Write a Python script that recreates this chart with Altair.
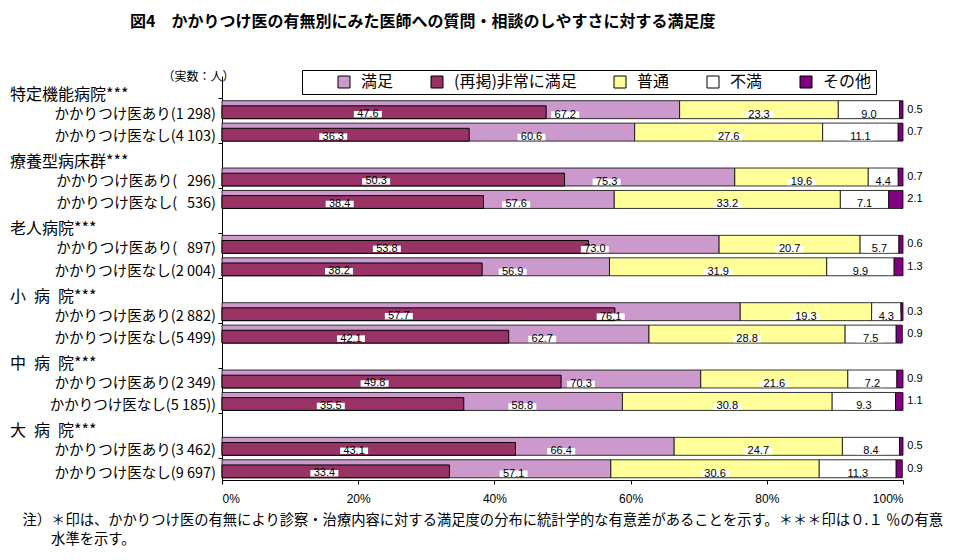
import altair as alt
import pandas as pd

# ---------------- data ----------------
groups = ["特定機能病院***", "療養型病床群***", "老人病院***",
          "小\u2002病\u2002院***", "中\u2002病\u2002院***", "大\u2002病\u2002院***"]
row_labels = ["かかりつけ医あり(1 298)", "かかりつけ医なし(4 103)",
              "かかりつけ医あり(\u00a0\u00a0\u00a0296)", "かかりつけ医なし(\u00a0\u00a0\u00a0536)",
              "かかりつけ医あり(\u00a0\u00a0\u00a0897)", "かかりつけ医なし(2 004)",
              "かかりつけ医あり(2 882)", "かかりつけ医なし(5 499)",
              "かかりつけ医あり(2 349)", "かかりつけ医なし(5 185))",
              "かかりつけ医あり(3 462)", "かかりつけ医なし(9 697)"]
very = [47.6, 36.3, 50.3, 38.4, 53.8, 38.2, 57.7, 42.1, 49.8, 35.5, 43.1, 33.4]
satisfied = [67.2, 60.6, 75.3, 57.6, 73.0, 56.9, 76.1, 62.7, 70.3, 58.8, 66.4, 57.1]
normal = [23.3, 27.6, 19.6, 33.2, 20.7, 31.9, 19.3, 28.8, 21.6, 30.8, 24.7, 30.6]
dissat = [9.0, 11.1, 4.4, 7.1, 5.7, 9.9, 4.3, 7.5, 7.2, 9.3, 8.4, 11.3]
other = [0.5, 0.7, 0.7, 2.1, 0.6, 1.3, 0.3, 0.9, 0.9, 1.1, 0.5, 0.9]

cat_order = ["満足", "(再掲)非常に満足", "普通", "不満", "その他"]
cat_colors = ["#CC99CC", "#993366", "#FFFF99", "#FFFFFF", "#800080"]

title_text = "図4　かかりつけ医の有無別にみた医師への質問・相談のしやすさに対する満足度"
note_lines = ["注）＊印は、かかりつけ医の有無により診察・治療内容に対する満足度の分布に統計学的な有意差があることを示す。＊＊＊印は０.１ ％の有意",
              "\u200b\u3000\u3000水準を示す。"]
unit_text = "（実数：人）"

# ---------------- derived tables ----------------
seg_rows, dark_rows, lab_rows, oth_rows, rl_rows = [], [], [], [], []
for i in range(len(very)):
    g, r = divmod(i, 2)
    s = 3 * g + 1 + r
    vals = [("満足", satisfied[i]), ("普通", normal[i]), ("不満", dissat[i]), ("その他", other[i])]
    start = 0.0
    for cat, v in vals:
        seg_rows.append(dict(cat=cat, x0=start, x1=start + v, ytop=s + 0.1, ybot=s + 0.9))
        if cat != "その他":
            pos = satisfied[i] * 0.75 if cat == "満足" else start + v / 2
            lab_rows.append(dict(x=pos, y=s + 0.72, t=f"{v:.1f}"))
        start += v
    dark_rows.append(dict(cat="(再掲)非常に満足", x0=0.0, x1=very[i], ytop=s + 0.33, ybot=s + 0.9))
    lab_rows.append(dict(x=very[i] * 0.45, y=s + 0.7, t=f"{very[i]:.1f}"))
    oth_rows.append(dict(y=s + 0.5, t=f"{other[i]:.1f}"))
    rl_rows.append(dict(y=s + 0.72, t=row_labels[i]))
grp_rows = [dict(y=3 * g + 0.83, t=name) for g, name in enumerate(groups)]

seg_df = pd.DataFrame(seg_rows)
dark_df = pd.DataFrame(dark_rows)
lab_df = pd.DataFrame(lab_rows)
oth_df = pd.DataFrame(oth_rows)
rl_df = pd.DataFrame(rl_rows)
grp_df = pd.DataFrame(grp_rows)

# ---------------- chart ----------------
W, H = 681, 404
NS = 18
JP = "Noto Sans CJK JP"
NUM = "Liberation Sans"

xscale = alt.Scale(domain=[0, 100], nice=False, zero=True)
yscale = alt.Scale(domain=[0, NS], reverse=True, nice=False, zero=False)

xaxis = alt.Axis(values=[0, 20, 40, 60, 80, 100], labelExpr="datum.value + '%'",
                 grid=False, domainColor="black", tickColor="black", tickSize=4,
                 labelFont=NUM, labelFontSize=12, labelColor="black", labelPadding=9,
                 title=note_lines, titleFont=JP, titleFontSize=14.3, titleFontWeight="normal",
                 titleColor="black", titleAlign="left", titleAnchor="start", titleBaseline="top",
                 titleX=-200, titleY=33, titleLineHeight=19)
yaxis = alt.Axis(values=list(range(1, NS + 1)), labels=False, grid=False,
                 domainColor="black", tickColor="black", tickSize=4,
                 title=unit_text, titleFont=JP, titleFontSize=12, titleFontWeight="normal",
                 titleColor="black", titleAngle=0, titleAlign="left", titleBaseline="middle",
                 titleX=-60, titleY=0)

legend = alt.Legend(orient="none", legendX=80, legendY=-6, direction="horizontal",
                    title=" ", titleOrient="left", titlePadding=30, titleFontSize=4,
                    strokeColor="black", fillColor="white", padding=4,
                    symbolType="square", symbolSize=144, symbolStrokeColor="black",
                    symbolStrokeWidth=1, labelFont=JP, labelFontSize=16, labelColor="black",
                    labelOffset=9, columnPadding=35)
color = alt.Color("cat:N", scale=alt.Scale(domain=cat_order, range=cat_colors), legend=legend)

seg = alt.Chart(seg_df).mark_rect(stroke="black", strokeWidth=0.8).encode(
    x=alt.X("x0:Q", scale=xscale, axis=xaxis), x2="x1:Q",
    y=alt.Y("ytop:Q", scale=yscale, axis=yaxis), y2="ybot:Q",
    color=color)

dark = alt.Chart(dark_df).mark_rect(stroke="black", strokeWidth=1).encode(
    x=alt.X("x0:Q", scale=xscale), x2="x1:Q",
    y=alt.Y("ytop:Q", scale=yscale), y2="ybot:Q",
    color=color)

boxes = alt.Chart(lab_df).mark_point(shape="M-1,-0.23H1V0.23H-1Z", filled=True,
                                     color="white", opacity=1, strokeWidth=0, size=784).encode(
    x=alt.X("x:Q", scale=xscale), y=alt.Y("y:Q", scale=yscale))

labels = alt.Chart(lab_df).mark_text(font=NUM, fontSize=11, color="black", baseline="middle").encode(
    x=alt.X("x:Q", scale=xscale), y=alt.Y("y:Q", scale=yscale), text="t:N")

oth = alt.Chart(oth_df).mark_text(font=NUM, fontSize=11, color="black", baseline="middle").encode(
    x=alt.value(W + 12), y=alt.Y("y:Q", scale=yscale), text="t:N")

rowlab = alt.Chart(rl_df).mark_text(font=JP, fontSize=14.5, color="black", align="right",
                                    baseline="middle").encode(
    x=alt.value(-6), y=alt.Y("y:Q", scale=yscale), text="t:N")

grplab = alt.Chart(grp_df).mark_text(font=JP, fontSize=16, color="black", align="left",
                                     baseline="middle").encode(
    x=alt.value(-212), y=alt.Y("y:Q", scale=yscale), text="t:N")

chart = alt.layer(seg, dark, boxes, labels, oth, rowlab, grplab).properties(
    width=W, height=H,
    title=alt.TitleParams(text=title_text, anchor="start", frame="group", dx=-92,
                          font=JP, fontSize=16, fontWeight="bold", color="black", offset=40),
    autosize=alt.AutoSizeParams(type="none"),
    padding={"left": 214, "top": 68, "right": 40, "bottom": 70},
    background="white",
).configure_view(stroke=None)

chart.save("out.html", embed_options={"renderer": "svg", "actions": False})
